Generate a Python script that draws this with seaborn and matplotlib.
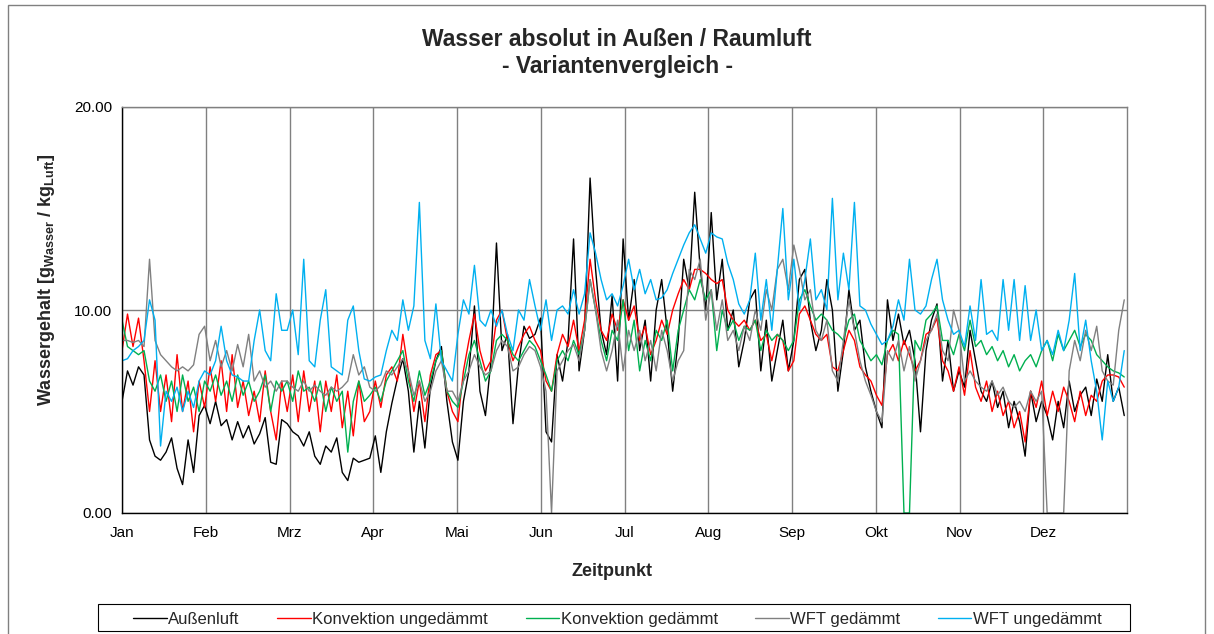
import numpy as np
import pandas as pd
import matplotlib
matplotlib.use('Agg')
import matplotlib.pyplot as plt
import seaborn as sns
from matplotlib.patches import Rectangle

# Werte alle 2 Tage (Tag 0, 2, ..., 364)
aussenluft = [
    5.5, 7.0, 6.3, 7.2, 6.8, 3.6, 2.8, 2.6, 3.0, 3.7, 2.2, 1.4, 3.6, 2.0, 4.8,
    5.3, 4.4, 5.5, 4.3, 4.6, 3.6, 4.5, 3.7, 4.3, 3.4, 3.9, 4.7, 2.5, 2.4, 4.6,
    4.4, 4.0, 3.8, 3.3, 4.0, 2.8, 2.4, 3.3, 3.0, 3.7, 2.0, 1.6, 2.7, 2.5, 2.6,
    2.7, 3.8, 2.0, 4.0, 5.4, 6.6, 7.6, 6.0, 3.0, 5.5, 3.2, 6.2, 7.5, 8.2, 5.5,
    3.5, 2.6, 5.5, 7.0, 10.2, 6.0, 4.8, 7.5, 13.3, 8.0, 8.8, 4.4, 7.3, 9.2, 8.6,
    8.8, 9.6, 4.0, 3.5, 7.8, 6.5, 8.5, 13.5, 7.0, 9.0, 16.5, 12.0, 9.0, 7.8, 10.7,
    6.5, 13.5, 9.5, 11.5, 8.0, 9.5, 6.5, 10.0, 11.5, 9.0, 6.0, 8.5, 12.5, 11.0, 15.8,
    12.0, 10.0, 14.8, 10.5, 12.5, 9.0, 10.0, 7.2, 8.5, 10.5, 11.0, 7.0, 9.5, 6.5, 8.0,
    9.5, 7.0, 8.5, 11.5, 12.0, 9.5, 8.0, 9.0, 11.5, 10.0, 6.0, 8.0, 11.0, 9.0, 9.5,
    7.2, 6.0, 5.0, 4.2, 10.5, 8.5, 9.8, 8.3, 9.0, 7.5, 4.0, 8.0, 9.5, 10.3, 6.5,
    8.5, 6.0, 7.0, 6.2, 9.0, 7.5, 6.0, 5.5, 6.5, 5.2, 6.0, 4.2, 5.5, 4.5, 2.8,
    6.0, 4.5, 5.5, 4.8, 3.6, 5.5, 4.2, 6.5, 5.0, 5.8, 6.2, 4.8, 6.6, 5.5, 7.8,
    5.5, 6.2, 4.8]

konv_ungedaemmt = [
    8.0, 9.8, 8.2, 9.6, 7.5, 5.0, 7.5, 5.0, 6.8, 4.5, 7.8, 5.0, 6.5, 4.0, 6.5,
    5.2, 7.2, 5.5, 7.5, 5.0, 7.8, 5.2, 6.5, 4.8, 6.0, 4.5, 7.0, 5.0, 3.6, 6.5,
    5.0, 6.8, 4.5, 7.0, 5.0, 6.5, 4.0, 6.5, 5.0, 6.8, 4.2, 6.0, 3.8, 6.5, 4.5,
    5.0, 6.5, 5.2, 6.8, 7.2, 6.5, 8.8, 7.0, 5.0, 6.5, 4.5, 6.8, 7.8, 8.0, 6.0,
    5.0, 4.5, 7.0, 8.5, 9.8, 8.0, 7.0, 7.5, 9.5, 10.0, 8.5, 7.5, 8.2, 8.8, 9.2,
    8.5, 8.0, 6.5, 6.0, 7.8, 8.8, 8.2, 9.5, 8.0, 9.5, 12.5, 10.5, 9.0, 8.5, 9.8,
    9.0, 10.5, 9.5, 10.2, 8.5, 9.2, 7.8, 8.5, 9.5, 8.8, 10.0, 10.8, 11.5, 11.0, 12.0,
    12.0, 11.8, 11.5, 11.3, 11.5, 10.0, 9.5, 9.2, 9.5, 9.0, 9.5, 8.5, 8.8, 7.5, 8.8,
    8.5, 7.0, 7.5, 9.8, 10.2, 9.5, 8.8, 8.5, 8.8, 7.2, 7.0, 8.0, 9.0, 8.5, 7.2,
    6.8, 6.5, 5.8, 5.3, 7.8, 8.3, 7.5, 8.5, 7.8, 7.0, 7.5, 8.8, 9.0, 9.6, 7.5,
    7.0, 6.0, 7.2, 5.8, 8.0, 6.2, 5.5, 6.5, 5.0, 6.0, 4.8, 5.5, 4.2, 5.0, 3.5,
    6.0, 5.2, 6.5, 4.8, 6.0, 5.0, 6.2, 5.5, 4.5, 6.0, 4.8, 5.8, 5.5, 6.5, 6.8,
    6.8, 6.7, 6.2]

konv_gedaemmt = [
    9.5, 8.2, 8.0, 7.8, 8.0, 6.5, 6.0, 6.8, 5.5, 6.5, 5.0, 6.8, 5.5, 6.2, 5.0,
    6.5, 6.0, 6.8, 5.8, 6.5, 5.5, 6.8, 5.8, 6.5, 5.5, 6.0, 6.8, 5.0, 6.5, 6.0,
    6.5, 5.5, 7.0, 6.0, 6.2, 5.5, 6.5, 5.0, 6.2, 5.5, 6.0, 3.0, 5.5, 6.5, 5.5,
    5.8, 6.2, 5.5, 6.5, 7.0, 7.5, 8.0, 6.5, 5.5, 7.0, 5.8, 6.5, 7.5, 8.0, 6.0,
    5.5, 5.2, 6.5, 7.8, 8.5, 7.5, 6.5, 7.0, 8.5, 8.8, 8.5, 7.8, 7.5, 8.0, 8.5,
    8.2, 7.5, 6.8, 6.0, 7.5, 8.0, 7.5, 8.5, 7.8, 9.0, 11.5, 10.0, 8.5, 7.5, 9.0,
    8.5, 10.5, 8.0, 9.5, 7.0, 8.5, 7.5, 9.0, 8.5, 9.5, 7.0, 9.0, 10.0, 11.0, 10.5,
    11.5, 10.5, 11.0, 8.0, 10.0, 9.0, 9.5, 8.5, 9.2, 9.0, 9.5, 8.0, 9.0, 8.5, 8.8,
    8.5, 8.0, 8.5, 10.5, 11.0, 10.2, 9.5, 9.8, 9.5, 9.0, 8.8, 8.5, 9.5, 9.8, 8.5,
    8.0, 7.5, 7.8, 7.3, 8.5, 9.0, 8.8, 0.0, 0.0, 8.5, 8.0, 9.5, 9.8, 10.2, 8.5,
    8.5, 7.8, 8.8, 8.0, 9.5, 8.2, 8.5, 7.8, 8.2, 7.5, 8.0, 7.2, 7.8, 7.0, 7.5,
    7.8, 7.2, 8.0, 8.5, 7.5, 8.8, 8.0, 8.5, 9.0, 8.2, 8.8, 8.5, 7.8, 7.5, 7.2,
    7.0, 6.9, 6.7]

wft_gedaemmt = [
    8.5, 8.5, 8.4, 8.5, 8.2, 12.5, 8.5, 7.8, 7.5, 7.2, 7.0, 7.2, 7.0, 7.3, 8.8,
    9.2, 7.5, 8.5, 7.2, 8.0, 7.0, 8.3, 7.2, 8.8, 6.5, 7.0, 6.2, 6.5, 6.0, 6.5,
    6.5, 6.2, 6.0, 6.5, 6.0, 6.3, 6.0, 5.8, 6.2, 6.0, 6.2, 6.5, 7.8, 6.8, 7.2,
    6.2, 6.0, 6.3, 7.0, 6.8, 7.2, 7.6, 7.0, 5.8, 6.5, 5.5, 6.0, 7.0, 7.5, 6.0,
    6.0, 5.5, 6.5, 7.0, 7.8, 7.2, 6.8, 7.0, 8.0, 8.5, 8.2, 7.0, 7.2, 7.8, 8.2,
    8.0, 7.2, 6.0, 0.0, 7.0, 7.5, 8.0, 8.3, 7.5, 9.0, 11.5, 10.0, 8.0, 7.0, 8.0,
    9.5, 7.0, 9.0, 8.0, 9.0, 7.5, 8.5, 7.0, 9.0, 8.0, 6.5, 7.5, 8.0, 12.0, 11.5,
    12.5, 9.5, 11.0, 9.0, 10.5, 8.5, 9.0, 8.0, 9.2, 8.5, 10.0, 9.0, 11.0, 10.0, 12.0,
    12.5, 11.0, 13.2, 12.0, 10.5, 11.0, 9.0, 8.5, 9.5, 7.0, 6.5, 8.5, 10.5, 9.0, 7.5,
    6.5, 5.8, 5.0, 4.5, 8.0, 7.5, 8.5, 7.0, 8.2, 6.5, 7.5, 8.5, 9.0, 9.8, 8.0,
    7.5, 10.0, 9.0, 6.5, 7.0, 6.5, 6.2, 6.0, 6.5, 5.8, 6.2, 5.5, 5.2, 5.5, 5.0,
    6.0, 5.5, 6.0, 0.0, 0.0, 0.0, 0.0, 7.0, 8.5, 7.5, 9.0, 8.0, 9.2, 7.0, 6.5,
    6.3, 9.0, 10.5]

wft_ungedaemmt = [
    7.5, 7.6, 8.0, 8.2, 8.5, 10.5, 9.5, 3.3, 6.0, 5.5, 6.2, 5.0, 6.0, 5.2, 6.5,
    7.0, 6.8, 7.5, 9.2, 7.5, 6.8, 6.7, 6.5, 6.5, 8.5, 10.0, 8.0, 7.5, 10.8, 9.0,
    9.0, 10.0, 7.8, 12.5, 7.5, 7.2, 9.5, 11.0, 7.2, 7.0, 6.8, 9.5, 10.2, 8.0, 6.6,
    6.5, 6.7, 6.8, 8.0, 9.0, 8.5, 10.5, 9.0, 10.2, 15.3, 8.5, 7.6, 10.3, 7.5, 7.0,
    6.5, 8.8, 10.5, 9.8, 12.2, 9.5, 9.2, 10.0, 9.2, 10.0, 8.8, 8.0, 10.0, 9.5, 11.5,
    10.2, 9.0, 10.5, 8.5, 10.0, 10.2, 9.8, 11.0, 9.8, 10.8, 13.8, 12.8, 11.5, 10.5, 10.8,
    10.2, 11.2, 12.5, 11.0, 12.0, 10.8, 11.5, 10.5, 10.6, 11.0, 11.8, 12.5, 13.2, 13.8, 14.2,
    13.5, 12.8, 13.8, 13.6, 13.5, 12.3, 11.5, 10.3, 9.8, 10.5, 12.8, 9.5, 11.5, 9.0, 12.0,
    15.0, 10.5, 12.5, 10.0, 11.5, 13.5, 10.5, 11.0, 10.0, 15.5, 10.5, 12.8, 11.0, 15.3, 10.2,
    10.0, 9.3, 8.8, 8.3, 8.5, 9.2, 10.5, 9.5, 12.5, 10.0, 9.8, 10.2, 11.5, 12.5, 10.5,
    9.5, 8.8, 9.0, 8.2, 10.2, 8.5, 11.5, 8.8, 9.0, 8.5, 11.5, 9.0, 11.5, 8.5, 11.2,
    8.5, 10.0, 8.0, 8.5, 7.8, 9.0, 8.0, 9.5, 11.8, 8.0, 9.5, 7.5, 6.0, 3.6, 6.5,
    5.5, 6.2, 8.0]

reihen = ['Außenluft', 'Konvektion ungedämmt', 'Konvektion gedämmt',
          'WFT gedämmt', 'WFT ungedämmt']
werte = [aussenluft, konv_ungedaemmt, konv_gedaemmt, wft_gedaemmt, wft_ungedaemmt]
farben = ['#000000', '#ff0000', '#00b050', '#808080', '#00b0f0']
monate = ['Jan', 'Feb', 'Mrz', 'Apr', 'Mai', 'Jun', 'Jul', 'Aug', 'Sep',
          'Okt', 'Nov', 'Dez']

df = pd.concat([pd.DataFrame({'Tag': np.arange(len(w)) * 2, 'Wert': w, 'Reihe': r})
                for r, w in zip(reihen, werte)], ignore_index=True)

sns.set_style('white')
plt.rcParams['font.family'] = ['Liberation Sans', 'DejaVu Sans']
plt.rcParams['mathtext.fontset'] = 'custom'
plt.rcParams['mathtext.rm'] = 'Liberation Sans'
plt.rcParams['mathtext.bf'] = 'Liberation Sans:bold'

fig = plt.figure(figsize=(12.14, 6.34), dpi=100)
ax = fig.add_axes([122 / 1214, 1 - 513 / 634, 1005 / 1214, 406 / 634])

sns.lineplot(data=df, x='Tag', y='Wert', hue='Reihe', hue_order=reihen,
             palette=dict(zip(reihen, farben)), estimator=None,
             linewidth=1.0, ax=ax)

ax.set_xlim(0, 365)
ax.set_ylim(0, 20)
ax.set_xticks(np.arange(12) * 365 / 12)
ax.set_xticklabels(monate)
ax.set_yticks([0, 10, 20])
ax.set_yticklabels(['0.00', '10.00', '20.00'])
ax.grid(True, color='#808080', linewidth=1.0)
ax.set_axisbelow(True)
ax.tick_params(direction='out', length=4, width=1, labelsize=11, colors='black')
ax.tick_params(axis='x', pad=13)
ax.tick_params(axis='y', pad=3)
for lbl in ax.get_xticklabels():
    lbl.set_verticalalignment('baseline')
for s in ['left', 'bottom']:
    ax.spines[s].set_color('black')
    ax.spines[s].set_linewidth(1.0)
for s in ['top', 'right']:
    ax.spines[s].set_color('#808080')
    ax.spines[s].set_linewidth(1.0)

ax.set_xlabel('Zeitpunkt', fontsize=13, fontweight='bold', va='center')
ax.xaxis.set_label_coords((612 - 122) / 1005, (513 - 572) / 406)
ax.set_ylabel(r'Wassergehalt [g$_{\mathbf{Wasser}}$ / kg$_{\mathbf{Luft}}$]',
              fontsize=13, fontweight='bold', va='center')
ax.yaxis.set_label_coords((47 - 122) / 1005, (513 - 280) / 406)

fig.text(617 / 1214, 1 - 40 / 634, 'Wasser absolut in Außen / Raumluft',
         ha='center', va='center', fontsize=16.5, fontweight='bold')
fig.text(617 / 1214, 1 - 66 / 634, '- Variantenvergleich -',
         ha='center', va='center', fontsize=16.5, fontweight='bold')

handles, labels = ax.get_legend_handles_labels()
ax.get_legend().remove()
fig.legend(handles, labels, loc='lower left', ncol=5, mode='expand',
           bbox_to_anchor=(130 / 1214, 4 / 634, 975 / 1214, 26 / 634),
           frameon=False, fontsize=12, handlelength=2.0,
           handletextpad=0.1, borderaxespad=0, borderpad=0.2)
fig.add_artist(Rectangle((98 / 1214, 1 - 631 / 634), 1032 / 1214, 27 / 634,
                         transform=fig.transFigure, fill=False,
                         edgecolor='black', linewidth=0.8))

fig.add_artist(Rectangle((8 / 1214, -0.02), (1205 - 8) / 1214, 1.02 - 5 / 634,
                         transform=fig.transFigure, fill=False,
                         edgecolor='#808080', linewidth=1.0))

fig.savefig('out.png', dpi=100)
